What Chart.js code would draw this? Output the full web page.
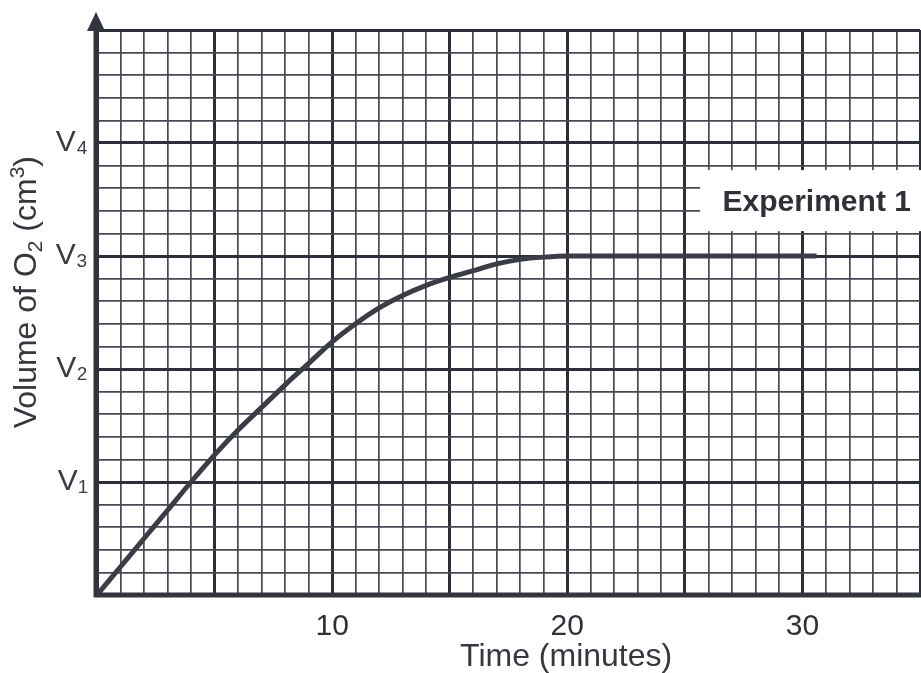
<!DOCTYPE html>
<html>
<head>
<meta charset="utf-8">
<title>Experiment 1 - Volume of O2</title>
<script src="https://cdn.jsdelivr.net/npm/chart.js@4.4.0/dist/chart.umd.min.js"></script>
<style>
    html, body { margin: 0; padding: 0; background: #ffffff; overflow: hidden; }
    #wrap { width: 921px; height: 673px; position: relative; }
</style>
</head>
<body>
<div id="wrap"><canvas id="oxygenChart"></canvas></div>
<script>
// Readings (time in minutes, volume in units of V)
const timeMinutes = [0, 1, 2, 3, 4, 5, 6, 7, 8, 9, 10, 11, 12, 13, 14, 15, 16, 17, 18, 19, 20, 25, 30.6];
const volumeO2 = [0, 0.25, 0.5, 0.75, 1.0, 1.24, 1.46, 1.66, 1.86, 2.05, 2.24, 2.4, 2.54, 2.65, 2.74, 2.81, 2.87, 2.93, 2.97, 2.99, 3.0, 3.0, 3.0];

// Labelled ticks
const xTickLabels = [10, 20, 30];
const yTickValues = [1, 2, 3, 4];
const yTickLabels = ['V₁', 'V₂', 'V₃', 'V₄'];
const seriesLabel = 'Experiment 1';

document.addEventListener('DOMContentLoaded', () => {
    const ink = '#32353e';
    const textInk = '#35373f';
    const fontFamily = '"Liberation Sans", Arial, sans-serif';

    // major line every 5 small squares
    const isMajorX = (v) => Math.round(v) % 5 === 0;
    const isMajorY = (v) => Math.round(v * 5) % 5 === 0;

    // text made of parts, some of them sub/superscript
    const drawRich = (ctx, parts, size) => {
        const small = Math.round(size * 0.66);
        let total = 0;
        parts.forEach(p => {
            ctx.font = (p.shift ? small : size) + 'px ' + fontFamily;
            p.w = ctx.measureText(p.text).width;
            total += p.w;
        });
        let cx = -total / 2;
        parts.forEach(p => {
            ctx.font = (p.shift ? small : size) + 'px ' + fontFamily;
            ctx.fillText(p.text, cx, (p.shift || 0) * size);
            cx += p.w;
        });
    };

    // axis titles, arrow on the y axis, white label box with the series name
    const paperExtras = {
        id: 'paperExtras',
        beforeDatasetsDraw: (chart) => {
            const { ctx, scales: { x, y } } = chart;
            const left = x.getPixelForValue(25.65);
            const top = y.getPixelForValue(3.76);
            const bottom = y.getPixelForValue(3.22);
            ctx.save();
            ctx.fillStyle = '#ffffff';
            ctx.fillRect(left, top, chart.width - left, bottom - top);
            ctx.fillStyle = '#2f3138';
            ctx.font = 'bold 30px ' + fontFamily;
            ctx.textBaseline = 'middle';
            ctx.fillText(seriesLabel, x.getPixelForValue(26.6), (top + bottom) / 2 + 2);
            ctx.restore();
        },
        afterDraw: (chart) => {
            const { ctx, chartArea, scales: { x, y } } = chart;
            const ax = chartArea.left - 1;
            ctx.save();
            ctx.strokeStyle = ink;
            ctx.fillStyle = ink;
            ctx.lineWidth = 5;
            ctx.beginPath();
            ctx.moveTo(ax, chartArea.bottom + 2);
            ctx.lineTo(ax, chartArea.top - 4);
            ctx.stroke();
            ctx.beginPath();
            ctx.moveTo(ax, chartArea.top - 18);
            ctx.lineTo(ax - 9, chartArea.top + 1);
            ctx.lineTo(ax + 9, chartArea.top + 1);
            ctx.closePath();
            ctx.fill();
            // x axis base line
            ctx.beginPath();
            ctx.moveTo(ax - 2, chartArea.bottom);
            ctx.lineTo(chartArea.right + 1, chartArea.bottom);
            ctx.stroke();

            // x title, sits under the 20 minute mark
            ctx.fillStyle = textInk;
            ctx.textBaseline = 'alphabetic';
            ctx.textAlign = 'center';
            ctx.font = '32px ' + fontFamily;
            ctx.fillText('Time (minutes)', x.getPixelForValue(19.95), 666);

            // y title, rotated
            ctx.textAlign = 'left';
            ctx.translate(36, y.getPixelForValue(2.68));
            ctx.rotate(-Math.PI / 2);
            drawRich(ctx, [
                { text: 'Volume of O' },
                { text: '2', shift: 0.2 },
                { text: ' (cm' },
                { text: '3', shift: -0.38 },
                { text: ')' }
            ], 32);
            ctx.restore();
        }
    };

    const points = timeMinutes.map((t, i) => ({ x: t, y: volumeO2[i] }));

    new Chart(document.getElementById('oxygenChart'), {
        type: 'line',
        data: {
            datasets: [{
                label: seriesLabel,
                data: points,
                borderColor: '#3a3d46',
                borderWidth: 5,
                pointRadius: 0,
                cubicInterpolationMode: 'monotone',
                fill: false
            }]
        },
        options: {
            responsive: true,
            maintainAspectRatio: false,
            animation: false,
            layout: { padding: { top: 30, right: 1, left: 0, bottom: 0 } },
            plugins: {
                legend: { display: false },
                tooltip: { enabled: false }
            },
            scales: {
                x: {
                    type: 'linear',
                    min: 0,
                    max: 35,
                    afterFit: (scale) => {
                        scale.height = 78;
                        scale.paddingLeft = 0;
                        scale.paddingRight = 0;
                    },
                    ticks: {
                        stepSize: 1,
                        autoSkip: false,
                        maxRotation: 0,
                        padding: 14,
                        color: '#2f3138',
                        font: { family: fontFamily, size: 30 },
                        callback: (v) => xTickLabels.includes(v) ? String(v) : ''
                    },
                    grid: {
                        drawTicks: false,
                        color: (c) => isMajorX(c.tick.value) ? '#2c2f38' : '#474a54',
                        lineWidth: (c) => isMajorX(c.tick.value) ? 3 : 1.7
                    },
                    border: { display: false }
                },
                y: {
                    type: 'linear',
                    min: 0,
                    max: 5,
                    afterFit: (scale) => {
                        scale.width = 97;
                        scale.paddingTop = 0;
                        scale.paddingBottom = 0;
                    },
                    ticks: {
                        stepSize: 0.2,
                        autoSkip: false,
                        padding: 9,
                        color: '#3a3c44',
                        font: { family: fontFamily, size: 30 },
                        callback: (v) => {
                            const i = yTickValues.findIndex(t => Math.abs(t - v) < 1e-6);
                            return i >= 0 ? yTickLabels[i] : '';
                        }
                    },
                    grid: {
                        drawTicks: false,
                        color: (c) => isMajorY(c.tick.value) ? '#2c2f38' : '#474a54',
                        lineWidth: (c) => isMajorY(c.tick.value) ? 3 : 1.7
                    },
                    border: { display: false }
                }
            }
        },
        plugins: [paperExtras]
    });
});
</script>
</body>
</html>
